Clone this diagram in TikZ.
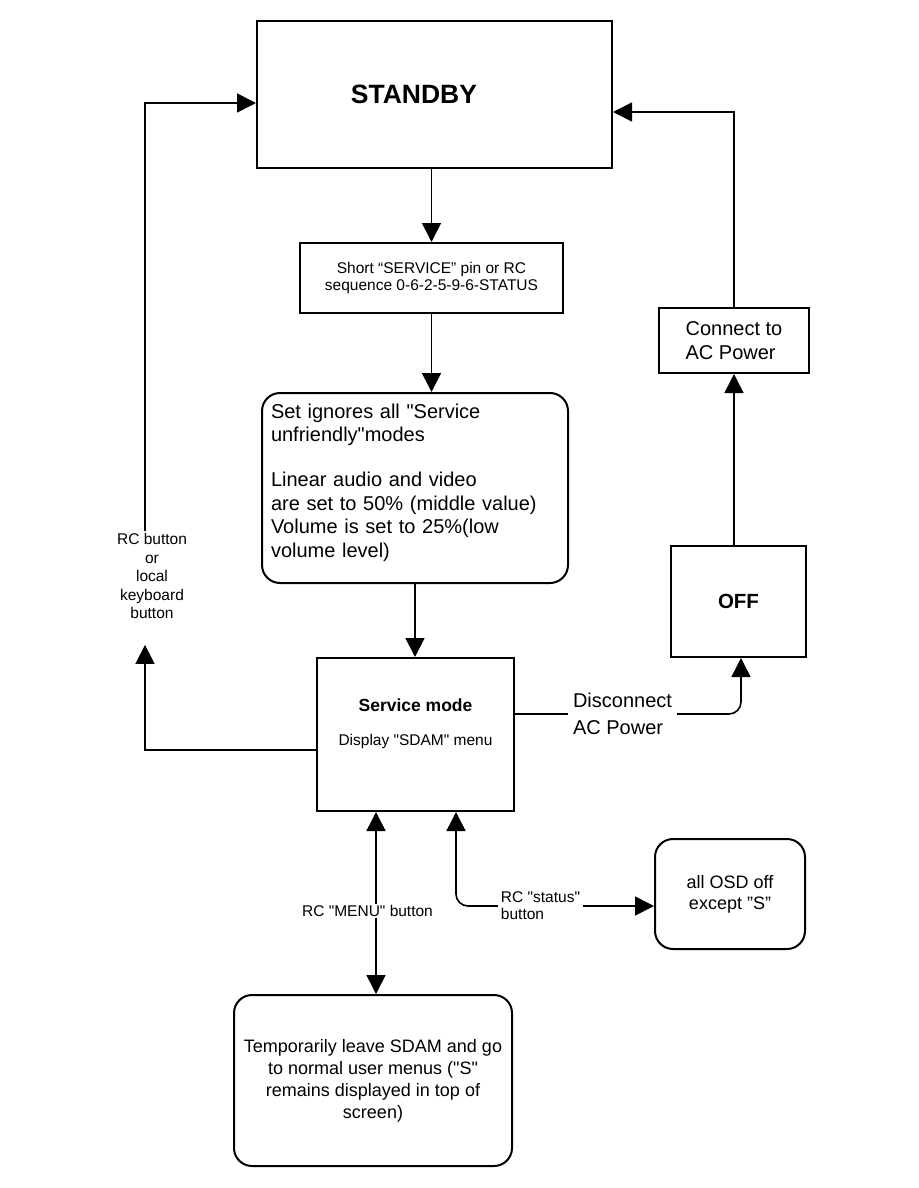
\documentclass[tikz,border=0pt]{standalone}
\usepackage{fontspec}
\setmainfont{Liberation Sans}[Ligatures=TeXOff]
\usetikzlibrary{arrows.meta}

\tikzset{
  box/.style={draw, line width=2pt, align=center, inner sep=4pt},
  rbox/.style={box, rounded corners=18pt},
  line/.style={line width=1.6pt},
  conn/.style={line, -{Triangle[length=19pt,width=19pt]}},
  dconn/.style={line, {Triangle[length=19pt,width=19pt]}-{Triangle[length=19pt,width=19pt]}},
  lbl/.style={inner sep=2pt}
}

\begin{document}
\begin{tikzpicture}[x=1pt, y=-1pt]
  \useasboundingbox (0,0) rectangle (918,1188);

  % === BOXES ===
  \node[box, minimum width=355, minimum height=147,
        font=\bfseries\fontsize{26.5}{31}\selectfont]
    (standby) at (434.5,94.5) {STANDBY\hspace*{41pt}};

  \node[box, minimum width=263, minimum height=70,
        font=\fontsize{15.5}{17}\selectfont]
    (shortsvc) at (431.5,278)
    {Short “SERVICE” pin or RC\\sequence 0-6-2-5-9-6-STATUS};

  \node[rbox, minimum width=306, minimum height=190, inner sep=9pt,
        text width=288pt, align=left, font=\fontsize{20}{23.5}\selectfont]
    (setbox) at (415,488)
    {Set ignores all "Service\\unfriendly"modes\\[21.5pt]
     Linear audio and video\\are set to 50\% (middle value)\\
     Volume is set to 25\%(low\\volume level)\\[-8pt]\mbox{}};

  \node[box, minimum width=197, minimum height=153,
        font=\fontsize{15.5}{18}\selectfont]
    (svcmode) at (415.5,734.5)
    {{\bfseries\fontsize{17.5}{21}\selectfont Service mode}\\[16pt]
     Display "SDAM" menu\\[6pt]\mbox{}};

  \node[box, minimum width=135, minimum height=111,
        font=\bfseries\fontsize{20.5}{24}\selectfont]
    (off) at (738.5,601.5) {OFF};

  \node[box, minimum width=150, minimum height=65, align=left,
        font=\fontsize{20}{24}\selectfont]
    (acpower) at (734,340.5) {Connect to\\AC Power};

  \node[rbox, minimum width=150, minimum height=110,
        font=\fontsize{18}{21}\selectfont]
    (osd) at (730,894) {all OSD off\\except ”S”};

  \node[rbox, minimum width=278, minimum height=171,
        font=\fontsize{18}{22}\selectfont]
    (temp) at (373,1080.5)
    {Temporarily leave SDAM and go\\to normal user menus ("S"\\
     remains displayed in top of\\screen)};

  % === LABELS ===
  \node[lbl, align=center, font=\fontsize{15.5}{18.5}\selectfont]
    (leftlbl) at (152,576) {RC button\\or\\local\\keyboard\\button};
  \node[lbl, inner sep=5pt, align=left, font=\fontsize{20}{27}\selectfont]
    (disc) at (622.5,714) {Disconnect\\AC Power};
  \node[lbl, inner sep=3pt, align=left, font=\fontsize{15.5}{17}\selectfont]
    (statlbl) at (540.5,906) {RC "status"\\button};

  % === CONNECTORS ===
  % main flow
  \draw[conn] (standby.south -| shortsvc.north) -- (shortsvc.north);
  \draw[conn] (shortsvc.south) -- (shortsvc.south |- setbox.north);
  \draw[conn] (setbox.south) -- (setbox.south |- svcmode.north);

  % back to standby
  \draw[conn, shorten >=24pt]
    ([yshift=-15.5pt]svcmode.west) -| ([xshift=-7pt]leftlbl.south);
  \draw[conn] ([xshift=-7pt]leftlbl.north) |- ([yshift=-8.5pt]standby.west);

  % power off and on
  \draw[line] ([yshift=20.5pt]svcmode.east) -- (disc.west);
  \draw[conn, rounded corners=12pt] (disc.east) -| ([xshift=2.5pt]off.south);
  \draw[conn] (acpower.south |- off.north) -- (acpower.south);
  \draw[conn] (acpower.north) |- ([yshift=-17.5pt]standby.east);

  % menu and status buttons
  \draw[dconn] ([xshift=3pt]temp.north |- svcmode.south) -- ([xshift=3pt]temp.north);
  \draw[conn, rounded corners=12pt] (statlbl.west) -| ([xshift=40.5pt]svcmode.south);
  \draw[conn] (statlbl.east) -- (statlbl.east -| osd.west);

  \node[lbl, fill=white, inner sep=1.5pt, font=\fontsize{15.5}{18}\selectfont]
    (menulbl) at (367.5,911) {RC "MENU" button};

\end{tikzpicture}
\end{document}
